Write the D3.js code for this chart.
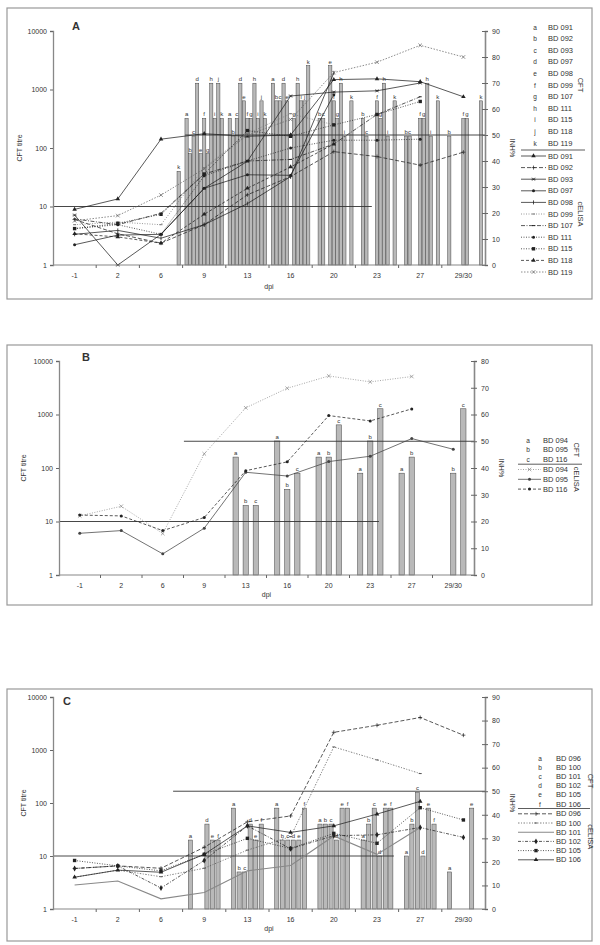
<!DOCTYPE html>
<html><head><meta charset="utf-8">
<script src="https://cdn.jsdelivr.net/npm/d3@7"></script>
<style>
body{margin:0;background:#fff}
svg{display:block}
text{font-family:"Liberation Sans",Arial,sans-serif;fill:#333}
</style></head>
<body><svg id="chart" width="600" height="945"></svg>
<script>
// ---------- DATA ----------
const days = ["-1","2","6","9","13","16","20","23","27","29/30"];
const cftTicks = [1,10,100,1000,10000];

// Panel A
const lettersA = ["a","b","c","d","e","f","g","h","i","j","k"];
const animalsA = ["BD 091","BD 092","BD 093","BD 097","BD 098","BD 099","BD 107","BD 111","BD 115","BD 118","BD 119"];
const cftA = [
  [null,null,null,320,320,1280,null,null,null,null],
  [null,null,null,80,160,640,320,320,160,160],
  [null,null,null,160,320,640,320,160,160,null],
  [null,null,null,1280,1280,1280,null,null,null,null],
  [null,null,null,80,640,640,2560,null,null,null],
  [null,null,null,320,320,null,640,640,320,320],
  [null,null,null,80,320,320,320,320,320,320],
  [null,null,null,1280,1280,1280,1280,1280,1280,null],
  [null,null,null,320,320,640,160,160,160,null],
  [null,null,null,1280,640,640,null,null,null,null],
  [null,null,40,320,320,2560,640,640,640,640]
];
const elisaA = [
  [21.4,25.4,48.4,50.5,49.5,50,71.3,71.6,70.5,64.7],
  [17.5,12,8.4,15.5,27,34,43.6,41.7,38.4,43.4],
  [19.2,0,11.8,29.5,39.9,65,66.5,67,70,null],
  [7.8,11.5,11.8,29.5,34.7,34.5,65.5,null,null,null],
  [11.8,13.3,10.3,15.5,23.6,34,73.9,null,null,null],
  [15.5,16.5,15.5,37.4,50.5,58.2,53.9,null,null,null],
  [17.7,15.5,19.9,35,40,40.6,46.5,57.9,64.7,null],
  [14,15.5,11.8,34.3,40,45,48,48,48.4,null],
  [14,16,19.5,35,51.7,49.5,53.9,57.9,62.9,null],
  [12,10.8,8.4,19.5,29.5,37.7,46.5,null,null,null],
  [17,19,26.9,37,50,56,74,78,84.5,80]
];
const inhTicksA = [0,10,20,30,40,50,60,70,80,90];
const cutoffCftA = [-0.5, 6.88];   // day-index span of the CFT=10 line
const cutoffInhA = [2.56, 9.5];    // day-index span of the INH=50 line

// Panel B
const lettersB = ["a","b","c"];
const animalsB = ["BD 094","BD 095","BD 116"];
const cftB = [
  [null,null,null,null,160,320,160,80,80,null],
  [null,null,null,null,20,40,160,320,160,80],
  [null,null,null,null,20,80,640,1280,null,1280]
];
const elisaB = [
  [22.1,25.7,15.5,45.3,62.5,69.8,74.4,72.2,74.2,null],
  [15.6,16.6,7.9,17.5,38.4,37,42.4,44.4,51,47],
  [22.4,22.1,16.6,21.5,39,42.3,59.6,57.6,62.1,null]
];
const inhTicksB = [0,10,20,30,40,50,60,70,80];
const cutoffCftB = [-0.5, 7.21];
const cutoffInhB = [2.51, 9.5];

// Panel C
const lettersC = ["a","b","c","d","e","f"];
const animalsC = ["BD 096","BD 100","BD 101","BD 102","BD 105","BD 106"];
const cftC = [
  [null,null,null,20,80,80,40,20,10,5],
  [null,null,null,null,5,20,40,40,40,null],
  [null,null,null,null,5,20,40,80,160,null],
  [null,null,null,40,40,20,20,10,10,null],
  [null,null,null,20,20,20,80,80,80,80],
  [null,null,null,20,40,80,80,80,40,null]
];
const elisaC = [
  [17.2,18.3,17.3,26.2,37,39.5,75,78,81.3,73.8],
  [13.5,16.5,13.7,17.3,25,30.7,68.8,63.3,57.5,null],
  [10.2,11.9,4.3,7,16.2,18.5,31,23.2,34.6,null],
  [17.2,18.3,8.9,20.6,35.3,25.6,31.1,31.5,34.6,30.4],
  [20.6,18.3,16.2,23.2,30,25.7,32.1,27.9,43,37.8],
  [13.5,16.5,15.6,23.2,35.3,32.5,35.3,40.3,45.7,null]
];
const inhTicksC = [0,10,20,30,40,50,60,70,80,90];
const cutoffCftC = [-0.5, 7.39];
const cutoffInhC = [2.28, 9.5];

// ---------- STYLES ----------
const stylesA = [
  {dash:null, mk:"tri"}, {dash:"4,2", mk:"plus"}, {dash:null, mk:"star"}, {dash:null, mk:"circ"},
  {dash:null, mk:"vtick"}, {dash:"1,1.5", mk:"dash", col:"#777"}, {dash:"4,1.5,1,1.5", mk:"dash"},
  {dash:"1,1.5", mk:"circ"}, {dash:"1,1.5", mk:"sq"}, {dash:"3,2", mk:"tri"}, {dash:"1.5,1.5", mk:"x", col:"#666"}
];
const stylesB = [
  {dash:"1,1.5", mk:"x", col:"#888"}, {dash:null, mk:"circ", col:"#444"}, {dash:"3,2", mk:"circ"}
];
const stylesC = [
  {dash:"4,2", mk:"plus"}, {dash:"1.5,1.5,1,1.5", mk:"dash", col:"#555"}, {dash:null, mk:"none", col:"#888", w:1.1},
  {dash:"3,1.5,1,1.5", mk:"dia"}, {dash:"1,1.5", mk:"sq"}, {dash:null, mk:"tri"}
];

const svg = d3.select("#chart");

function marker(g, type, x, y, col){
  const c = col || "#111";
  if(type==="tri") g.append("path").attr("d", d3.symbol(d3.symbolTriangle, 9)()).attr("transform",`translate(${x},${y})`).attr("fill",c);
  else if(type==="circ") g.append("circle").attr("cx",x).attr("cy",y).attr("r",1.5).attr("fill",c);
  else if(type==="sq") g.append("rect").attr("x",x-1.7).attr("y",y-1.7).attr("width",3.4).attr("height",3.4).attr("fill",c);
  else if(type==="dia") g.append("path").attr("d", d3.symbol(d3.symbolDiamond, 10)()).attr("transform",`translate(${x},${y})`).attr("fill",c);
  else if(type==="x") g.append("path").attr("d",`M${x-1.8},${y-1.8}L${x+1.8},${y+1.8}M${x-1.8},${y+1.8}L${x+1.8},${y-1.8}`).attr("stroke",c).attr("stroke-width",0.7);
  else if(type==="plus") g.append("path").attr("d",`M${x-2},${y}L${x+2},${y}M${x},${y-2}L${x},${y+2}`).attr("stroke",c).attr("stroke-width",0.7);
  else if(type==="star") g.append("path").attr("d",`M${x-2},${y}L${x+2},${y}M${x-1.5},${y-1.5}L${x+1.5},${y+1.5}M${x-1.5},${y+1.5}L${x+1.5},${y-1.5}`).attr("stroke",c).attr("stroke-width",0.7);
  else if(type==="vtick") g.append("path").attr("d",`M${x},${y-2}L${x},${y+2}`).attr("stroke",c).attr("stroke-width",0.8);
  else if(type==="dash") g.append("path").attr("d",`M${x-1.5},${y}L${x+1.5},${y}`).attr("stroke",c).attr("stroke-width",1);
}

function drawPanel(cfg){
  const g = svg.append("g");
  const f = cfg.frame;
  g.append("rect").attr("x",f[0]).attr("y",f[1]).attr("width",f[2]-f[0]).attr("height",f[3]-f[1])
    .attr("fill","none").attr("stroke","#999").attr("stroke-width",1.2);
  const p = cfg.plot;
  const x = d3.scaleBand().domain(days).range([p.l,p.r]);
  const bw = x.bandwidth();
  const xi = d3.scaleLinear().domain([-0.5, days.length-0.5]).range([p.l,p.r]);
  const y = d3.scaleLog().domain([1,10000]).range([p.b,p.t]);
  const yr = d3.scaleLinear().domain([0,cfg.inhTicks[cfg.inhTicks.length-1]]).range([p.b,p.t]);
  const fs = 7;

  // bars
  const n = cfg.letters.length;
  cfg.cft.forEach((row, li) => {
    row.forEach((v, di) => {
      if(v==null) return;
      const c = x(days[di]) + bw/2;
      const sub = d3.scaleBand().domain(cfg.letters).range([c - n*cfg.step/2, c + n*cfg.step/2]).paddingInner(1 - cfg.barW/cfg.step).paddingOuter(0);
      const bx = sub(cfg.letters[li]);
      g.append("rect").attr("x",bx).attr("y",y(v)).attr("width",sub.bandwidth()).attr("height",y(1)-y(v))
        .attr("fill","#b9b9b9").attr("stroke","#444").attr("stroke-width",0.5);
      g.append("text").attr("x",bx+sub.bandwidth()/2).attr("y",y(v)-2).attr("text-anchor","middle")
        .attr("font-size",6).text(cfg.letters[li]);
    });
  });

  // reference lines
  g.append("line").attr("x1",xi(cfg.cutCft[0])).attr("x2",xi(cfg.cutCft[1])).attr("y1",y(10)).attr("y2",y(10))
    .attr("stroke","#333").attr("stroke-width",0.9);
  g.append("line").attr("x1",xi(cfg.cutInh[0])).attr("x2",xi(cfg.cutInh[1])).attr("y1",yr(50)).attr("y2",yr(50))
    .attr("stroke","#333").attr("stroke-width",0.9);

  // lines
  cfg.elisa.forEach((row, si) => {
    const st = cfg.styles[si];
    const col = st.col || "#222";
    const line = d3.line().defined(d => d.v!=null).x(d => x(days[d.i])+bw/2).y(d => yr(d.v));
    const pts = row.map((v,i)=>({v,i}));
    g.append("path").attr("d", line(pts)).attr("fill","none").attr("stroke",col)
      .attr("stroke-width", st.w||0.75).attr("stroke-dasharray", st.dash);
    pts.forEach(d => { if(d.v!=null) marker(g, st.mk, x(days[d.i])+bw/2, yr(d.v), col); });
  });

  // left axis
  const la = g.append("g").attr("transform",`translate(${p.l},0)`)
    .call(d3.axisLeft(y).tickValues(cftTicks).tickFormat(d3.format("d")).tickSize(3).tickPadding(3));
  la.select(".domain").attr("stroke","#888").attr("stroke-width",1.3);
  la.selectAll(".tick line").attr("stroke","#666");
  la.selectAll("text").attr("font-size",fs).attr("font-family","Liberation Sans, Arial").attr("fill","#333");
  // right axis
  const ra = g.append("g").attr("transform",`translate(${p.r},0)`)
    .call(d3.axisRight(yr).tickValues(cfg.inhTicks).tickSize(3).tickPadding(4));
  ra.select(".domain").attr("stroke","#888").attr("stroke-width",1.6);
  ra.selectAll(".tick line").attr("stroke","#666").attr("x1",-3);
  ra.selectAll("text").attr("font-size",fs).attr("font-family","Liberation Sans, Arial").attr("fill","#333");
  // x axis
  g.append("line").attr("x1",p.l).attr("x2",p.r).attr("y1",p.b).attr("y2",p.b).attr("stroke","#888").attr("stroke-width",1.2);
  days.forEach((d,i) => {
    if(i>0) g.append("line").attr("x1",x(d)).attr("x2",x(d)).attr("y1",p.b).attr("y2",p.b+3).attr("stroke","#666");
    g.append("text").attr("x",x(d)+bw/2).attr("y",p.b+13).attr("text-anchor","middle").attr("font-size",fs).text(d);
  });
  g.append("text").attr("x",(p.l+p.r)/2).attr("y",p.b+cfg.dpiDy).attr("text-anchor","middle").attr("font-size",fs).text("dpi");
  g.append("text").attr("transform",`translate(${cfg.cftLabelX},${(p.t+p.b)/2}) rotate(-90)`).attr("text-anchor","middle")
    .attr("font-size",fs).text("CFT titre");
  g.append("text").attr("transform",`translate(${p.r+25},${(p.t+p.b)/2}) rotate(90)`).attr("text-anchor","middle")
    .attr("font-size",fs).text("INH%");
  g.append("text").attr("x",cfg.tag[0]).attr("y",cfg.tag[1]).attr("font-size",11).attr("font-weight","bold").attr("fill","#222").text(cfg.name);

  // legend
  const L = cfg.legend;
  cfg.letters.forEach((l,i) => {
    const yy = L.y0 + i*L.dy;
    g.append("text").attr("x",L.lx).attr("y",yy+2.5).attr("text-anchor","middle").attr("font-size",6.5).text(l);
    g.append("text").attr("x",L.nx).attr("y",yy+2.5).attr("font-size",7.5).text(cfg.animals[i]);
  });
  const sepY = L.y0 + (n-1)*L.dy + L.sep1;
  g.append("line").attr("x1",L.s0).attr("x2",L.s1).attr("y1",sepY).attr("y2",sepY).attr("stroke","#333").attr("stroke-width",0.8);
  cfg.animals.forEach((a,i) => {
    const yy = sepY + L.sep2 + i*L.dy;
    const st = cfg.styles[i]; const col = st.col||"#222";
    g.append("line").attr("x1",L.s0).attr("x2",L.nx-2).attr("y1",yy).attr("y2",yy).attr("stroke",col)
      .attr("stroke-width",st.w||0.75).attr("stroke-dasharray",st.dash);
    marker(g, st.mk, (L.s0+L.nx-2)/2, yy, col);
    g.append("text").attr("x",L.nx).attr("y",yy+2.5).attr("font-size",7.5).text(a);
  });
  const cftMid = L.y0 + (n-1)*L.dy/2;
  const elMid = sepY + L.sep2 + (n-1)*L.dy/2;
  g.append("text").attr("transform",`translate(${L.tx},${cftMid}) rotate(90)`).attr("text-anchor","middle").attr("font-size",7.5).text("CFT");
  g.append("text").attr("transform",`translate(${L.tx},${elMid}) rotate(90)`).attr("text-anchor","middle").attr("font-size",7.5).text("cELISA");
}

drawPanel({name:"A", frame:[7,8,592,299], plot:{l:53,r:485,t:31,b:265}, tag:[72,30],
  letters:lettersA, animals:animalsA, cft:cftA, elisa:elisaA, styles:stylesA, inhTicks:inhTicksA,
  cutCft:cutoffCftA, cutInh:cutoffInhA, step:3.5, barW:3.2, cftLabelX:22, dpiDy:24,
  legend:{y0:27, dy:11.6, lx:535, nx:548, s0:521, s1:585, sep1:7, sep2:6, tx:578}});
drawPanel({name:"B", frame:[7,345,592,605], plot:{l:59,r:474,t:361,b:575}, tag:[82,361],
  letters:lettersB, animals:animalsB, cft:cftB, elisa:elisaB, styles:stylesB, inhTicks:inhTicksB,
  cutCft:cutoffCftB, cutInh:cutoffInhB, step:8.5, barW:4.5, cftLabelX:26, dpiDy:22,
  legend:{y0:440, dy:9.8, lx:528, nx:543, s0:518, s1:582, sep1:4.6, sep2:5.3, tx:574}});
drawPanel({name:"C", frame:[7,689,592,941], plot:{l:53,r:485,t:697,b:909}, tag:[63,705],
  letters:lettersC, animals:animalsC, cft:cftC, elisa:elisaC, styles:stylesC, inhTicks:inhTicksC,
  cutCft:cutoffCftC, cutInh:cutoffInhC, step:5.3, barW:4, cftLabelX:26, dpiDy:22,
  legend:{y0:758, dy:9.2, lx:540, nx:556, s0:518, s1:590, sep1:4.5, sep2:5.3, tx:588}});
</script></body></html>
